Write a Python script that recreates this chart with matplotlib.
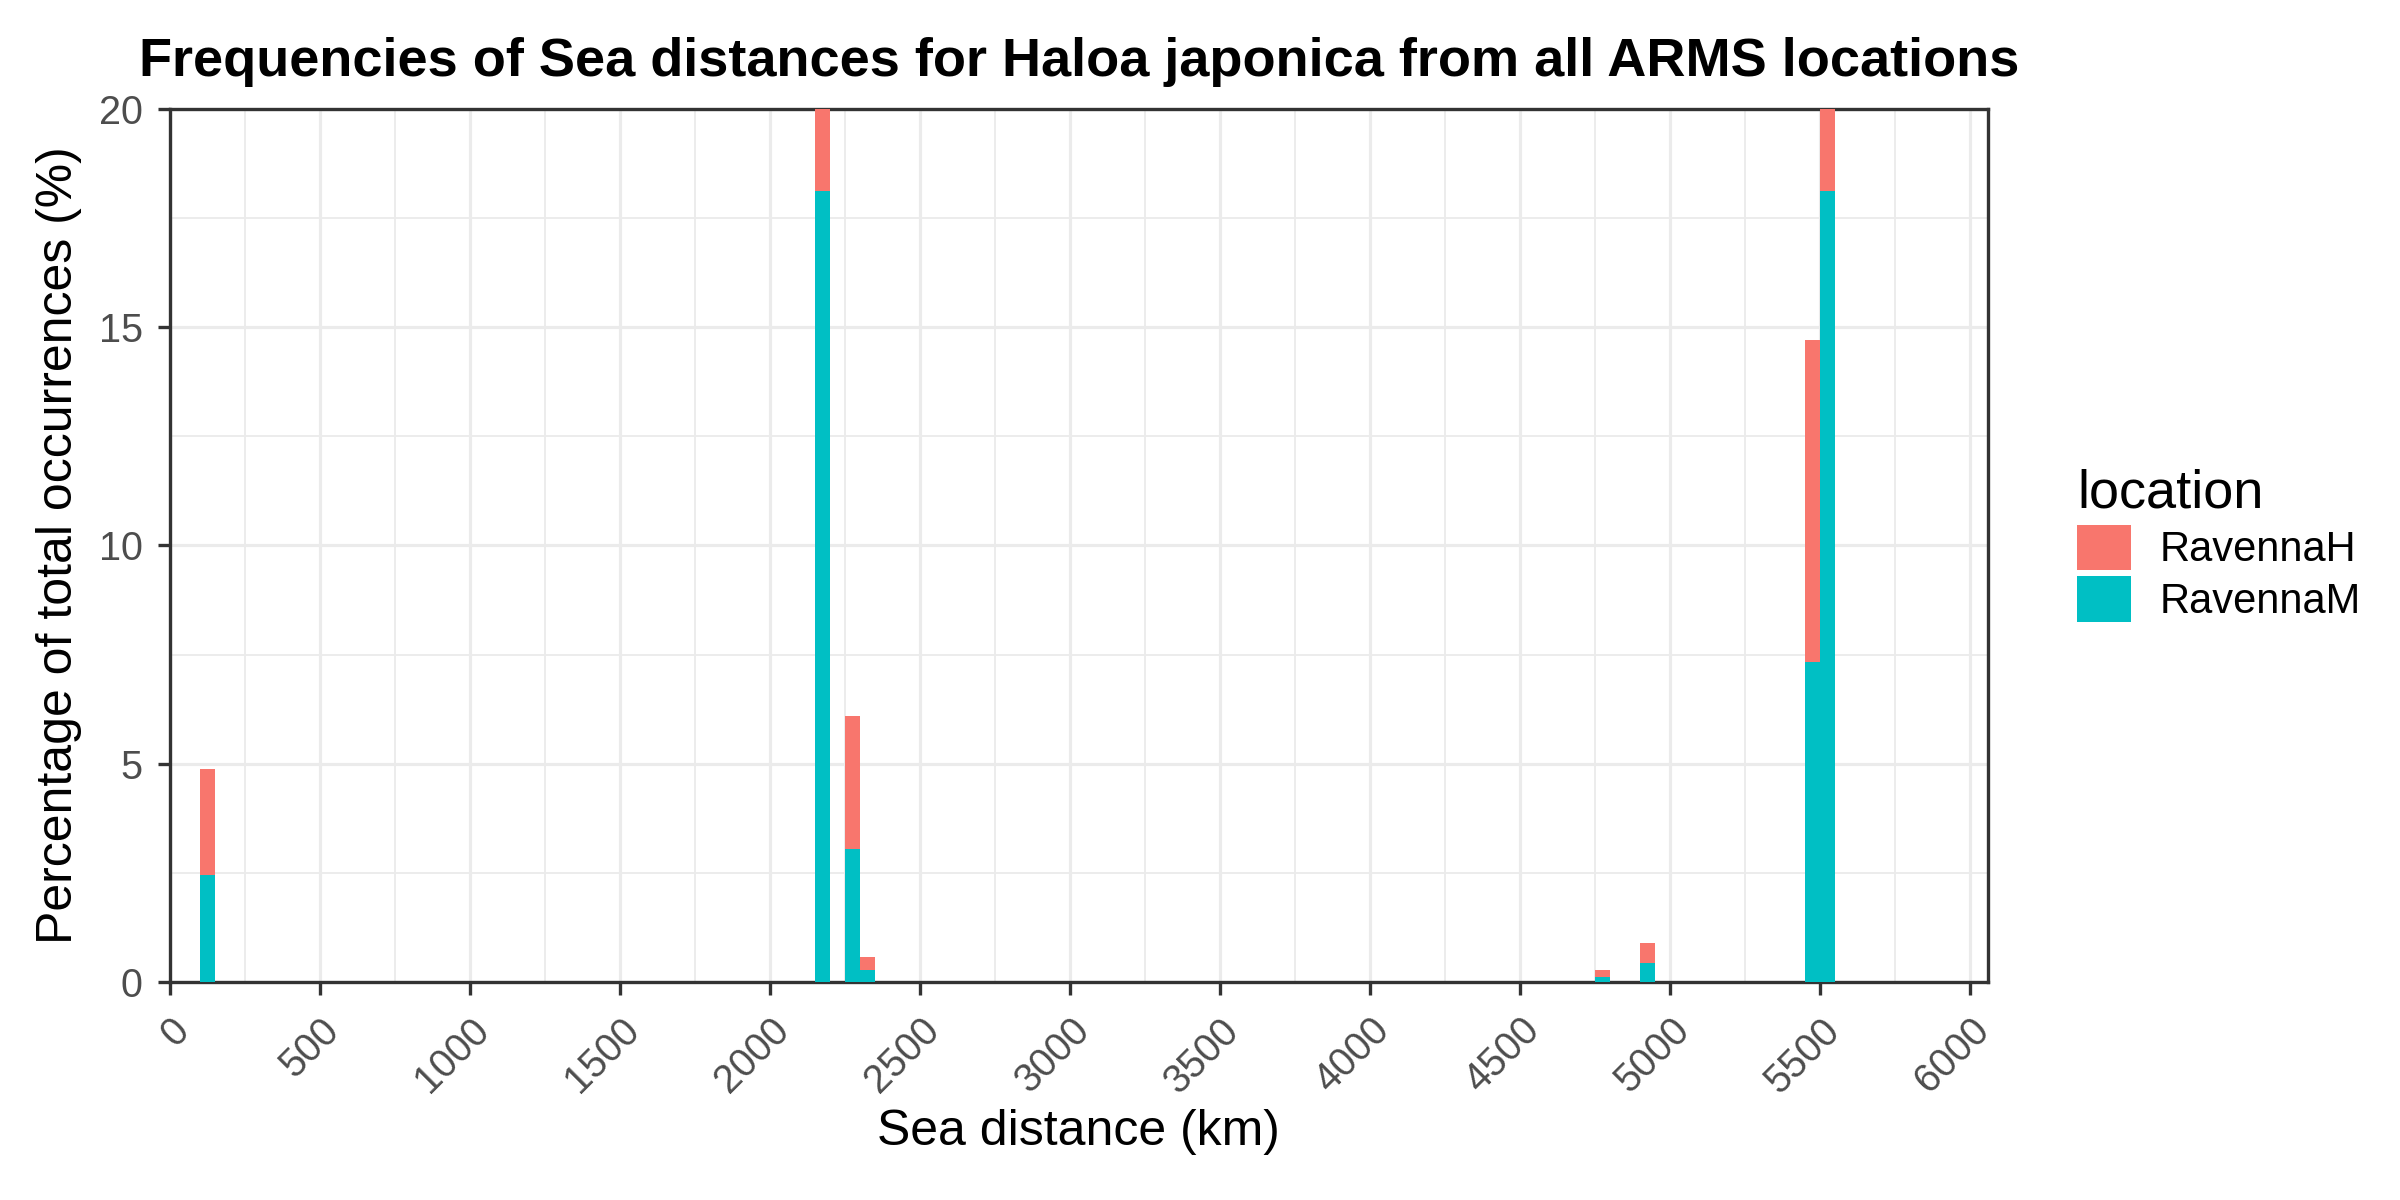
import matplotlib
matplotlib.use("Agg")
import matplotlib.pyplot as plt
from matplotlib.patches import Patch
from matplotlib.ticker import MultipleLocator

plt.rcParams['font.family'] = ['Liberation Sans', 'DejaVu Sans']

# Histogram bins (left edges, km) with bin width 50 km
bin_left = [100, 2150, 2250, 2300, 4750, 4900, 5450, 5500]
bin_width = 50
ravenna_m = [2.44, 18.12, 3.05, 0.28, 0.12, 0.44, 7.34, 18.12]
ravenna_h = [2.44, 18.12, 3.05, 0.29, 0.16, 0.46, 7.37, 18.12]
locations = ['RavennaH', 'RavennaM']
x_ticks = list(range(0, 6001, 500))
y_ticks = [0, 5, 10, 15, 20]

col_h = '#F8766D'
col_m = '#00BFC4'
grid_col = '#EBEBEB'
border_col = '#333333'

fig = plt.figure(figsize=(8, 4), dpi=300)
ax = fig.add_axes([0.0708, 0.1817, 0.8283 - 0.0708, 0.9092 - 0.1817])

ax.bar(bin_left, ravenna_m, width=bin_width, align='edge', color=col_m, linewidth=0, zorder=3)
ax.bar(bin_left, ravenna_h, bottom=ravenna_m, width=bin_width, align='edge', color=col_h, linewidth=0, zorder=3)

ax.set_xlim(0, 6060)
ax.set_ylim(0, 20)
ax.set_xticks(x_ticks)
ax.set_xticklabels([str(t) for t in x_ticks], rotation=45, ha='right', va='top',
                   rotation_mode='anchor', color='#4D4D4D', fontsize=9.5)
ax.set_yticks(y_ticks)
ax.set_yticklabels([str(t) for t in y_ticks], color='#4D4D4D', fontsize=9.5)
ax.xaxis.set_minor_locator(MultipleLocator(250))
ax.yaxis.set_minor_locator(MultipleLocator(2.5))
ax.tick_params(which='major', length=3, width=0.8, color=border_col)
ax.tick_params(which='minor', length=0)
ax.tick_params(axis='x', which='major', pad=4)

ax.grid(which='major', color=grid_col, linewidth=0.75, zorder=0)
ax.grid(which='minor', color=grid_col, linewidth=0.45, zorder=0)
ax.set_axisbelow(True)
for s in ax.spines.values():
    s.set_color(border_col)
    s.set_linewidth(0.8)

ax.set_xlabel('Sea distance (km)', fontsize=12, labelpad=2)
ax.set_ylabel('Percentage of total occurrences (%)', fontsize=12, labelpad=4)
ax.set_title('Frequencies of Sea distances for Haloa japonica from all ARMS locations',
             fontsize=13, fontweight='bold', pad=8)

handles = [Patch(facecolor=col_h, edgecolor='none', label=locations[0]),
           Patch(facecolor=col_m, edgecolor='none', label=locations[1])]
leg = ax.legend(handles=handles, title='location', loc='center left',
                bbox_to_anchor=(1.04, 0.5), frameon=False, fontsize=10,
                title_fontsize=13, handlelength=1.3, handleheight=1.3,
                labelspacing=0.14, handletextpad=0.67, borderaxespad=0)
leg._legend_box.align = 'left'

fig.savefig('out.png', dpi=300)
